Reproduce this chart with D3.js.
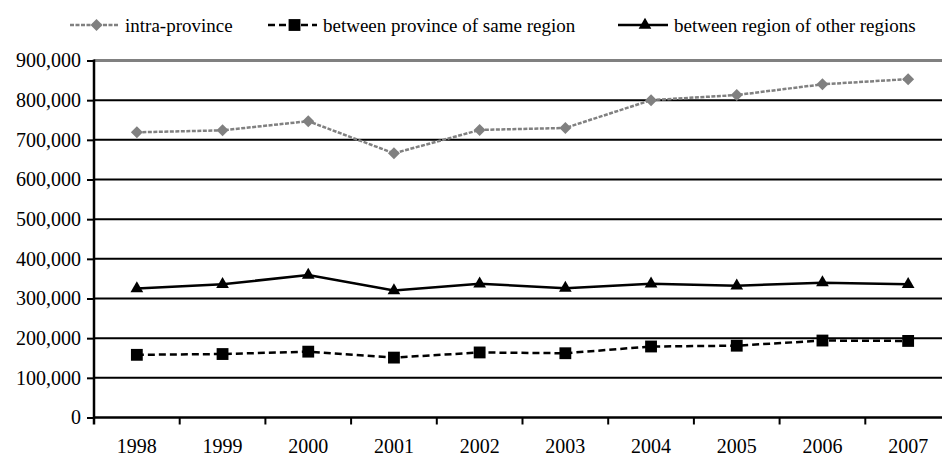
<!DOCTYPE html>
<html>
<head>
<meta charset="utf-8">
<script src="https://cdn.jsdelivr.net/npm/d3@7"></script>
<style>
  html, body { margin: 0; padding: 0; background: #fff; }
  svg { display: block; }
  text { font-family: "Liberation Serif", "Times New Roman", serif; fill: #000; }
</style>
</head>
<body>
<svg id="chart" width="942" height="456"></svg>
<script>
// Migration counts by year
const years = ["1998", "1999", "2000", "2001", "2002", "2003", "2004", "2005", "2006", "2007"];
const intraProvince = [719000, 724000, 747000, 666000, 725000, 730000, 800000, 813000, 840000, 853000];
const sameRegion = [158000, 160000, 166000, 151000, 164000, 162000, 179000, 181000, 194000, 193000];
const otherRegions = [325000, 336000, 359000, 320000, 337000, 326000, 337000, 332000, 340000, 336000];
const yTicks = [0, 100000, 200000, 300000, 400000, 500000, 600000, 700000, 800000, 900000];
const seriesNames = ["intra-province", "between province of same region", "between region of other regions"];

const svg = d3.select("#chart");
const plotLeft = 94, plotRight = 951, plotTop = 60.5, plotBottom = 417.5;

const x = d3.scaleBand().domain(years).range([plotLeft, plotRight]);
const y = d3.scaleLinear().domain([0, 900000]).range([plotBottom, plotTop]);
const fmt = d3.format(",");

// Horizontal gridlines
svg.append("g").selectAll("line")
  .data(yTicks.filter(d => d > 0))
  .join("line")
  .attr("x1", plotLeft).attr("x2", plotRight)
  .attr("y1", d => y(d)).attr("y2", d => y(d))
  .attr("stroke", d => d === 900000 ? "#808080" : "#000")
  .attr("stroke-width", d => d === 900000 ? 3 : 2);

// Y axis
const yAxis = svg.append("g")
  .attr("transform", `translate(${plotLeft},0)`)
  .call(d3.axisLeft(y).tickValues(yTicks).tickFormat(fmt).tickSize(7).tickPadding(6));
yAxis.select(".domain").remove();
yAxis.selectAll(".tick line").attr("stroke", "#000").attr("stroke-width", 2);
yAxis.selectAll(".tick text").attr("font-size", 20).attr("font-family", "Liberation Serif").attr("fill", "#000");
svg.append("line").attr("x1", plotLeft).attr("x2", plotLeft).attr("y1", plotTop - 1).attr("y2", plotBottom + 7)
  .attr("stroke", "#000").attr("stroke-width", 2.5);

// X axis
const xAxis = svg.append("g")
  .attr("transform", `translate(0,${plotBottom})`)
  .call(d3.axisBottom(x).tickSize(0).tickPadding(21));
xAxis.select(".domain").remove();
xAxis.selectAll(".tick text").attr("font-size", 20).attr("font-family", "Liberation Serif").attr("fill", "#000");
svg.append("line").attr("x1", plotLeft).attr("x2", plotRight).attr("y1", plotBottom).attr("y2", plotBottom)
  .attr("stroke", "#000").attr("stroke-width", 2.5);
svg.append("g").selectAll("line")
  .data(years.slice(1))
  .join("line")
  .attr("x1", d => x(d)).attr("x2", d => x(d))
  .attr("y1", plotBottom).attr("y2", plotBottom + 7)
  .attr("stroke", "#000").attr("stroke-width", 2);

const cx = d => x(d) + x.bandwidth() / 2;
const line = d3.line().x(d => cx(d[0])).y(d => y(d[1]));

const series = [
  { name: seriesNames[0], values: intraProvince, color: "#808080", dash: "4,1.5", width: 2.5, symbol: d3.symbolSquare, size: 72, rot: 45 },
  { name: seriesNames[1], values: sameRegion, color: "#000", dash: "7,4", width: 2.5, symbol: d3.symbolSquare, size: 140, rot: 0 },
  { name: seriesNames[2], values: otherRegions, color: "#000", dash: null, width: 2.5, symbol: d3.symbolTriangle, size: 70, rot: 0 }
];

series.forEach(s => {
  const pts = years.map((yr, i) => [yr, s.values[i]]);
  svg.append("path")
    .attr("d", line(pts))
    .attr("fill", "none")
    .attr("stroke", s.color)
    .attr("stroke-width", s.width)
    .attr("stroke-dasharray", s.dash);
  svg.append("g").selectAll("path")
    .data(pts)
    .join("path")
    .attr("d", d3.symbol().type(s.symbol).size(s.size))
    .attr("transform", d => `translate(${cx(d[0])},${y(d[1])}) rotate(${s.rot})`)
    .attr("fill", s.color);
});

// Legend
const legendX = [70, 268, 618];
const legendLen = [49, 49, 50];
const legend = svg.append("g");
series.forEach((s, i) => {
  const g = legend.append("g").attr("transform", `translate(${legendX[i]},25)`);
  g.append("line").attr("x1", 0).attr("x2", legendLen[i]).attr("y1", 0).attr("y2", 0)
    .attr("stroke", s.color).attr("stroke-width", s.width).attr("stroke-dasharray", s.dash);
  g.append("path")
    .attr("d", d3.symbol().type(s.symbol).size(s.size))
    .attr("transform", `translate(${legendLen[i] / 2 + 2},0) rotate(${s.rot})`)
    .attr("fill", s.color);
  g.append("text")
    .attr("x", legendLen[i] + 6)
    .attr("y", 0)
    .attr("dy", "0.35em")
    .attr("font-size", 19)
    .text(s.name);
});
</script>
</body>
</html>
